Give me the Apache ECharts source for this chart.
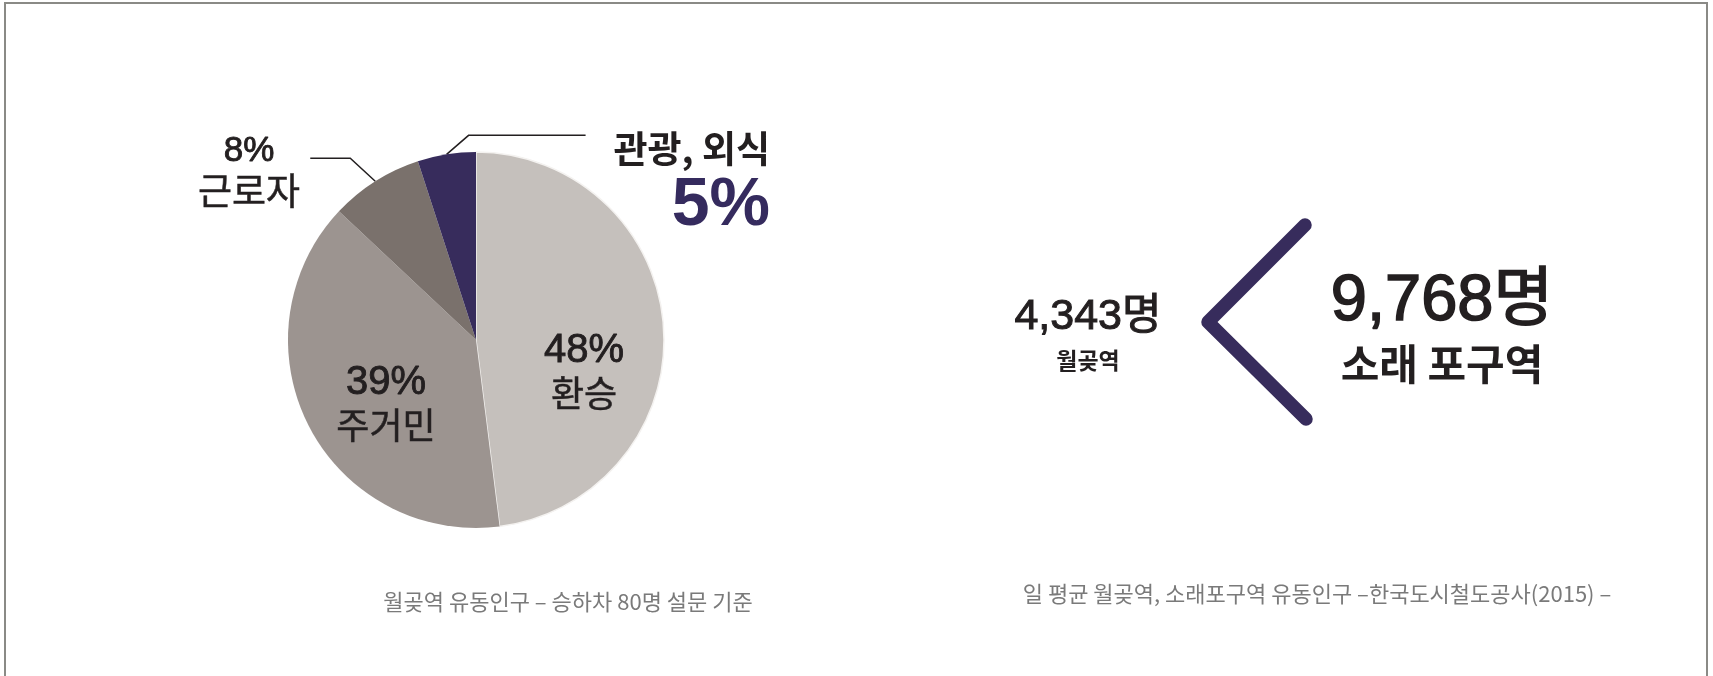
<!DOCTYPE html>
<html>
<head>
<meta charset="utf-8">
<script src="https://cdn.jsdelivr.net/npm/echarts@6/dist/echarts.min.js"></script>
<style>
html,body{margin:0;padding:0;background:#ffffff;}
#c{width:1713px;height:676px;}
</style>
</head>
<body>
<div id="c"></div>
<script>
// ---- data ----
const categories = ['환승', '주거민', '근로자', '관광, 외식'];
const shares = [48, 39, 8, 5];
const sliceColors = ['#c5c0bc', '#9c9490', '#7a716c', '#372c5c'];
const stations = ['월곶역', '소래 포구역'];
const visitors = [4343, 9768];
const captions = [
  '월곶역 유동인구 – 승하차 80명 설문 기준',
  '일 평균 월곶역, 소래포구역 유동인구 –한국도시철도공사(2015) –'
];

// ---- layout ----
const FONT = "'Liberation Sans', 'Noto Sans CJK KR', sans-serif";
const KFONT = "'Noto Sans CJK KR', 'Liberation Sans', sans-serif";
const PIE_C = [476, 340];
const PIE_R = 188;
const NAVY = '#372c5c';
const INK = '#231f20';

const total = shares.reduce((a, b) => a + b, 0);
function midPoint(i) {
  let cum = 0;
  for (let k = 0; k < i; k++) cum += shares[k];
  const a = (cum + shares[i] / 2) / total * 2 * Math.PI;
  return [PIE_C[0] + PIE_R * Math.sin(a), PIE_C[1] - PIE_R * Math.cos(a)];
}

const labelPos = [
  { x: 584, y: 372, align: 'center' },
  { x: 386, y: 404, align: 'center' },
  { x: 249, y: 171, align: 'center' },
  { x: 770, y: 184, align: 'right' }
];

function fmtLabel(i) {
  const p = shares[i] + '%';
  if (i === 0 || i === 1) return '{p|' + p + '}\n{n|' + categories[i] + '}';
  if (i === 2) return '{p8|' + p + '}\n{n8|' + categories[i] + '}';
  return '{n5|' + categories[i] + '}\n{big|' + p + '}';
}

const thick = w => ({ textBorderColor: INK, textBorderWidth: w });

const chart = echarts.init(document.getElementById('c'), null, { renderer: 'canvas' });

const option = {
  backgroundColor: '#ffffff',
  animation: false,
  series: [{
    type: 'pie',
    center: PIE_C,
    radius: PIE_R,
    startAngle: 90,
    clockwise: true,
    avoidLabelOverlap: false,
    label: {
      show: true,
      position: 'outside',
      formatter: p => fmtLabel(p.dataIndex),
      rich: {
        p:   Object.assign({ fontFamily: FONT, fontSize: 40, color: INK, lineHeight: 42, align: 'center' }, thick(0.9)),
        n:   Object.assign({ fontFamily: KFONT, fontSize: 36, color: INK, lineHeight: 42, align: 'center' }, thick(0.5)),
        p8:  Object.assign({ fontFamily: FONT, fontSize: 35, color: INK, lineHeight: 39, align: 'center' }, thick(0.9)),
        n8:  Object.assign({ fontFamily: KFONT, fontSize: 37, color: INK, lineHeight: 39, align: 'center' }, thick(0.5)),
        n5:  { fontFamily: KFONT, fontSize: 37, fontWeight: 'bold', color: INK, lineHeight: 44, align: 'right' },
        big: { fontFamily: FONT, fontSize: 68, fontWeight: 'bold', color: '#352b5e', lineHeight: 70, align: 'right' }
      }
    },
    labelLine: { show: true, lineStyle: { color: INK, width: 1.5 } },
    labelLayout: function (params) {
      const i = params.dataIndex;
      const lp = labelPos[i];
      const res = { x: lp.x, y: lp.y, align: lp.align, verticalAlign: 'middle' };
      if (i === 2) {
        const s = midPoint(2);
        res.labelLinePoints = [s, [s[0] - 25, s[1] - 23], [s[0] - 65, s[1] - 23]];
      } else if (i === 3) {
        const s = midPoint(3);
        res.labelLinePoints = [s, [s[0] + 22, s[1] - 19], [s[0] + 139, s[1] - 19]];
      }
      return res;
    },
    data: categories.map((name, i) => ({
      name: name,
      value: shares[i],
      itemStyle: i === 0
        ? { color: sliceColors[i], borderColor: '#f4f2f0', borderWidth: 1.5 }
        : { color: sliceColors[i], borderWidth: 0 },
      label: (i < 2) ? { position: 'inside' } : undefined,
      labelLine: (i < 2) ? { show: false } : undefined
    }))
  }],
  graphic: [
    // frame
    { type: 'rect', shape: { x: 5, y: 3, width: 1702, height: 720 },
      style: { fill: null, stroke: '#8a8a86', lineWidth: 2 }, silent: true },
    // comparison sign
    { type: 'polyline', shape: { points: [[1305, 225], [1208, 322], [1306, 419]] },
      style: { stroke: NAVY, lineWidth: 13.5, lineCap: 'round', lineJoin: 'round', fill: null } },
    // station counts
    { type: 'text', x: 1088, y: 317,
      style: { text: visitors[0].toLocaleString('en-US') + '명', font: '43px ' + FONT, fill: INK,
               stroke: INK, lineWidth: 1.0, align: 'center', verticalAlign: 'middle' } },
    { type: 'text', x: 1088, y: 360,
      style: { text: stations[0], font: 'bold 23px ' + KFONT, fill: INK, align: 'center', verticalAlign: 'middle' } },
    { type: 'text', x: 1442, y: 302,
      style: { text: visitors[1].toLocaleString('en-US') + '명', font: '65px ' + FONT, fill: INK,
               stroke: INK, lineWidth: 1.6, align: 'center', verticalAlign: 'middle' } },
    { type: 'text', x: 1442, y: 364,
      style: { text: stations[1], font: 'bold 42px ' + KFONT, fill: INK, align: 'center', verticalAlign: 'middle' } },
    // captions
    { type: 'text', x: 568, y: 602,
      style: { text: captions[0], font: '22px ' + KFONT, fill: '#7a7a7a', align: 'center', verticalAlign: 'middle' } },
    { type: 'text', x: 1317, y: 594,
      style: { text: captions[1], font: '22px ' + KFONT, fill: '#7a7a7a', align: 'center', verticalAlign: 'middle' } }
  ]
};

chart.setOption(option);
</script>
</body>
</html>
